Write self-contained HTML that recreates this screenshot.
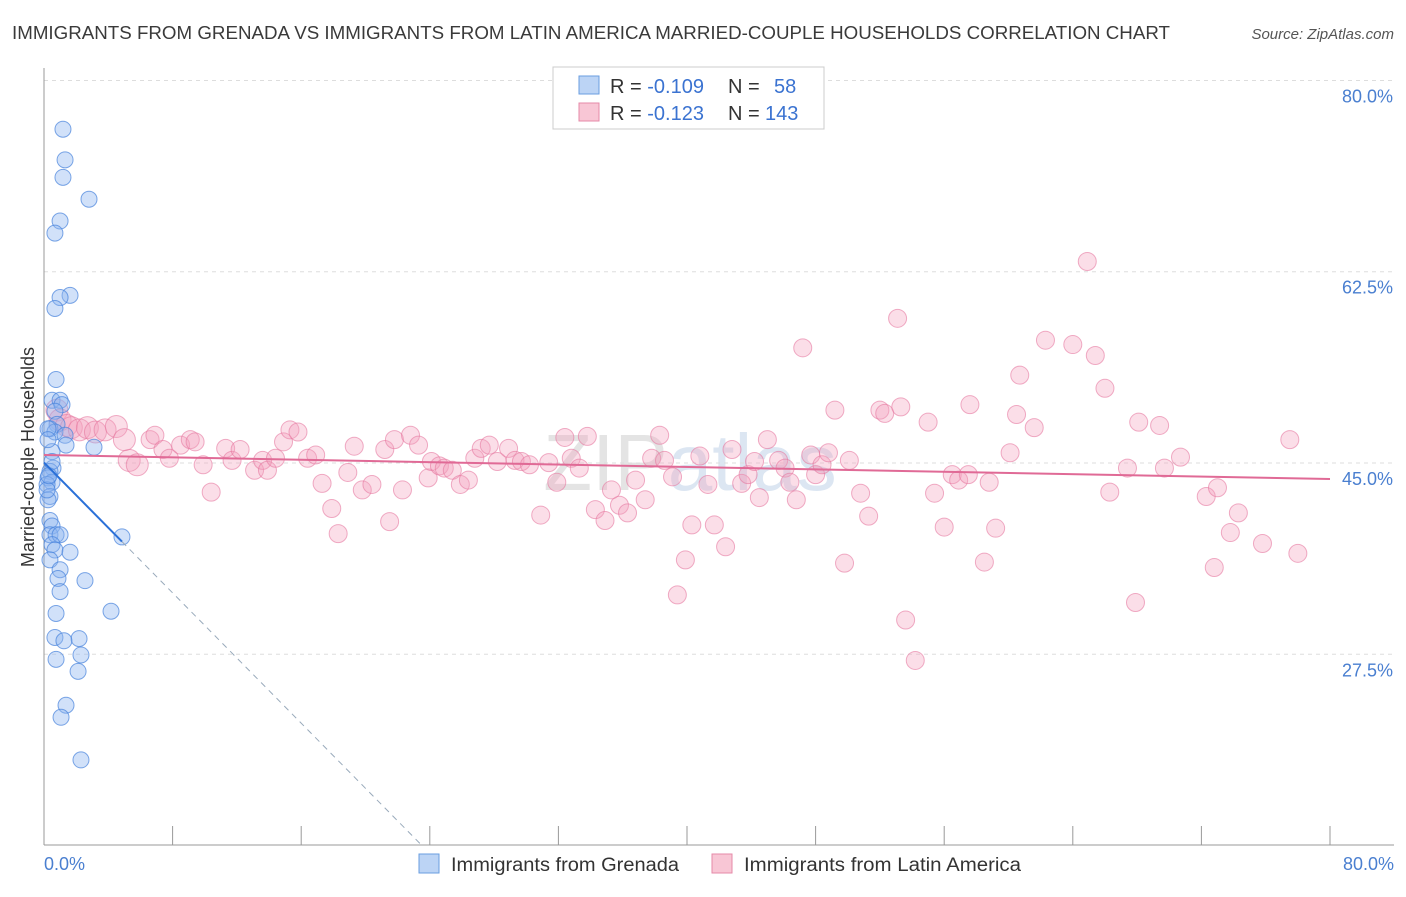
<!DOCTYPE html>
<html><head><meta charset="utf-8"><style>
body{margin:0;background:#fff;font-family:"Liberation Sans",sans-serif;}
svg text{font-family:"Liberation Sans",sans-serif;}
</style></head><body>
<svg id="chart" width="1406" height="892" xmlns="http://www.w3.org/2000/svg">
<text x="12" y="39" font-size="18" fill="#3a3a3a" textLength="1158" lengthAdjust="spacingAndGlyphs">IMMIGRANTS FROM GRENADA VS IMMIGRANTS FROM LATIN AMERICA MARRIED-COUPLE HOUSEHOLDS CORRELATION CHART</text>
<text x="1394" y="39" font-size="15" fill="#555" font-style="italic" text-anchor="end">Source: ZipAtlas.com</text>
<text x="690" y="490" font-size="80" fill="#e4e4e4" text-anchor="middle" font-family="Liberation Serif">ZIP<tspan fill="#dce6f2">atlas</tspan></text>
<g id="grid"></g><g id="axes"></g><g id="pink"></g><g id="blue"></g><g id="lines"></g>
<text transform="translate(34,457) rotate(-90)" font-size="18" fill="#333" text-anchor="middle">Married-couple Households</text>
<text x="44" y="870" font-size="18" fill="#4a7fd0">0.0%</text>
<text x="1394" y="870" font-size="18" fill="#4a7fd0" text-anchor="end">80.0%</text>
<g>
<rect x="553" y="67" width="271" height="62" fill="#fff" stroke="#ccc"/>
<rect x="579" y="76" width="20" height="18" fill="#bcd4f5" stroke="#6a9ee0"/>
<rect x="579" y="103" width="20" height="18" fill="#f8c6d5" stroke="#e68aa8"/>
<text x="610" y="93" font-size="20" fill="#333">R = <tspan fill="#3b73d1">-0.109</tspan><tspan x="728">N = </tspan><tspan x="774" fill="#3b73d1">58</tspan></text>
<text x="610" y="120" font-size="20" fill="#333">R = <tspan fill="#3b73d1">-0.123</tspan><tspan x="728">N = </tspan><tspan x="765" fill="#3b73d1">143</tspan></text>
</g>
<g>
<rect x="419" y="854" width="20" height="19" fill="#bcd4f5" stroke="#6a9ee0"/>
<text x="451" y="871" font-size="19" fill="#333" textLength="228" lengthAdjust="spacingAndGlyphs">Immigrants from Grenada</text>
<rect x="712" y="854" width="20" height="19" fill="#f8c6d5" stroke="#e68aa8"/>
<text x="744" y="871" font-size="19" fill="#333" textLength="277" lengthAdjust="spacingAndGlyphs">Immigrants from Latin America</text>
</g>
</svg>
<script>
const yTicks=[80,62.5,45,27.5];
const yTickLabels=["80.0%","62.5%","45.0%","27.5%"];
const xTicks=[0,8,16,24,32,40,48,56,64,72,80];
const blueX=[1.18,1.31,1.18,2.8,1.0,0.68,1.62,1.0,0.68,0.75,0.5,1.0,1.12,0.68,0.81,0.37,0.68,1.31,1.37,0.5,0.56,0.37,0.25,0.5,0.19,0.37,0.25,0.37,0.5,0.37,0.75,1.0,0.5,0.68,1.62,0.37,1.0,0.87,2.55,1.0,0.75,4.17,0.68,2.18,1.24,2.3,0.75,2.12,1.37,1.06,2.3,4.85,3.11,0.19,0.25,0.5,0.25,0.3];
const blueY=[77.0,74.2,72.6,70.6,68.6,67.5,61.8,61.6,60.6,54.1,52.2,52.2,51.8,51.2,50.0,49.6,49.3,49.0,48.1,47.5,46.0,45.7,45.1,44.7,44.5,43.4,43.1,41.2,40.7,39.9,39.9,39.9,39.0,38.5,38.3,37.6,36.7,35.9,35.7,34.7,32.7,32.9,30.5,30.4,30.2,28.9,28.5,27.4,24.3,23.2,19.3,39.7,47.9,44.0,49.6,46.6,48.6,45.3];
const pinkX=[0.8,1.0,1.4,1.7,2.2,2.7,3.2,3.8,4.5,5.3,5.8,5.0,6.6,6.9,7.4,7.8,8.5,9.1,9.4,10.4,9.9,11.3,11.7,12.2,13.1,13.6,13.9,14.4,14.9,15.3,15.8,16.4,16.9,17.3,17.9,18.3,18.9,19.3,19.8,20.4,21.2,21.5,21.8,22.3,22.8,23.3,23.9,24.1,24.6,24.9,25.4,25.9,26.4,26.8,27.2,27.7,28.2,28.9,29.3,29.7,30.2,30.9,31.4,31.9,32.4,32.8,33.3,33.8,34.3,34.9,35.3,35.8,36.3,36.8,37.4,37.8,38.3,38.6,39.1,39.4,39.9,40.3,40.8,41.3,41.7,42.4,42.8,43.4,43.8,44.2,44.5,45.0,45.7,46.1,46.4,46.8,47.2,47.7,48.0,48.4,48.8,49.2,49.8,50.1,50.8,51.3,52.0,52.3,53.1,53.3,53.6,54.2,55.0,55.4,56.0,56.5,56.9,57.5,57.6,58.5,58.8,59.2,60.1,60.5,60.7,61.6,62.3,64.0,64.9,65.4,66.0,66.3,67.4,67.9,68.1,69.4,69.7,70.7,72.3,73.0,73.8,74.3,72.8,75.8,77.5,78.0];
const pinkY=[51.3,50.4,49.9,49.7,49.5,49.7,49.3,49.5,49.8,46.7,46.3,48.6,48.6,49.0,47.7,46.9,48.1,48.6,48.4,43.8,46.3,47.8,46.7,47.7,45.8,46.7,45.8,46.9,48.4,49.5,49.3,46.9,47.2,44.6,42.3,40.0,45.6,48.0,44.0,44.5,47.7,41.1,48.6,44.0,49.0,48.1,45.1,46.6,46.2,46.0,45.8,44.5,44.9,46.9,47.8,48.1,46.6,47.8,46.7,46.6,46.3,41.7,46.5,44.7,48.8,46.9,46.0,48.9,42.2,41.2,44.0,42.6,41.9,44.9,43.1,46.9,49.0,46.7,45.2,34.4,37.6,40.8,47.1,44.5,40.8,38.8,47.7,44.6,45.4,46.6,43.3,48.6,46.7,46.0,44.7,43.1,57.0,47.2,45.4,46.3,47.4,51.3,37.3,46.7,43.7,41.6,51.3,51.0,59.7,51.6,32.1,28.4,50.2,43.7,40.6,45.4,44.9,45.4,51.8,37.4,44.7,40.5,47.4,50.9,54.5,49.7,57.7,57.3,64.9,56.3,53.3,43.8,46.0,33.7,50.2,49.9,46.0,47.0,43.4,44.2,40.1,41.9,36.9,39.1,48.6,38.2];
const blueFit=[46.5,-1.49], pinkFit=[47.2,-0.0275];
const X=v=>44+v*16.075, Y=v=>479-(v-45)*10.93;
const NS="http://www.w3.org/2000/svg";
function mk(p,t,a){const e=document.createElementNS(NS,t);for(const k in a)e.setAttribute(k,a[k]);document.getElementById(p).appendChild(e);return e;}
yTicks.forEach((t,i)=>{
 const g=mk('grid','line',{x1:44,x2:1394,y1:Y(t)-16,y2:Y(t)-16,stroke:'#ddd','stroke-dasharray':'4,4'});
 
 
 const l=mk('grid','text',{x:1393,y:Y(t)+6,'font-size':18,fill:'#4a7fd0','text-anchor':'end'});
 l.textContent=yTickLabels[i];
 
 
});
let a=mk('axes','line',{x1:44,x2:44,y1:68,y2:845,stroke:'#999'});


a=mk('axes','line',{x1:44,x2:1394,y1:845,y2:845,stroke:'#999'});


xTicks.forEach(t=>{const k=mk('axes','line',{x1:X(t),x2:X(t),y1:826,y2:845,stroke:'#999'});
 
 });
pinkX.forEach((x,i)=>{const c=mk('pink','circle',{cx:X(x),cy:Y(pinkY[i]),r:x<6?11:9,fill:'rgba(244,160,190,0.35)',stroke:'rgba(230,120,160,0.6)','stroke-width':1});
 
 });
blueX.forEach((x,i)=>{const c=mk('blue','circle',{cx:X(x),cy:Y(blueY[i]),r:8,fill:'rgba(140,180,240,0.4)',stroke:'rgba(70,130,220,0.7)','stroke-width':1});
 
 });
const bf=x=>blueFit[0]+blueFit[1]*x, pf=x=>pinkFit[0]+pinkFit[1]*x;
const bEnd=(11.5-blueFit[0])/blueFit[1];
let ln=mk('lines','line',{x1:X(4.85),y1:Y(bf(4.85)),x2:X(bEnd),y2:Y(bf(bEnd)),stroke:'#9ab','stroke-width':1,'stroke-dasharray':'6,5'});


ln=mk('lines','line',{x1:X(0),y1:Y(bf(0)),x2:X(4.85),y2:Y(bf(4.85)),stroke:'#2a70d8','stroke-width':2});


ln=mk('lines','line',{x1:X(0),y1:Y(pf(0)),x2:X(80),y2:Y(pf(80)),stroke:'#e06a96','stroke-width':2});


</script>
</body></html>
